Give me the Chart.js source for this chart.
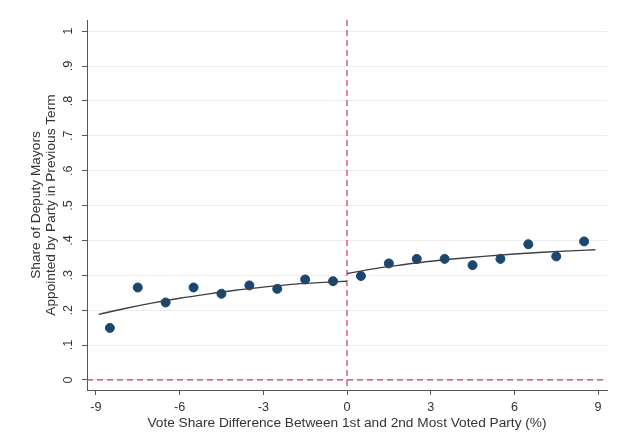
<!DOCTYPE html>
<html>
<head>
<meta charset="utf-8">
<script src="https://cdn.jsdelivr.net/npm/chart.js@4.4.1/dist/chart.umd.min.js"></script>
<style>
  html, body { margin: 0; padding: 0; background: #fff; }
  #wrap { width: 622px; height: 448px; position: relative; }
</style>
</head>
<body>
<div id="wrap"><canvas id="rdd-chart" width="622" height="448"></canvas></div>
<script>
// bin midpoints of the running variable and share in each bin
var binX = [-8.5, -7.5, -6.5, -5.5, -4.5, -3.5, -2.5, -1.5, -0.5,
            0.5, 1.5, 2.5, 3.5, 4.5, 5.5, 6.5, 7.5, 8.5];
var binShare = [0.149, 0.265, 0.222, 0.265, 0.247, 0.271, 0.261, 0.288, 0.283,
                0.298, 0.334, 0.347, 0.347, 0.329, 0.347, 0.389, 0.354, 0.397];

// fitted curves on each side of the cutoff
var fitLeftX = [-8.9, -8, -7, -6, -5, -4, -3, -2, -1, 0];
var fitLeftY = [0.188, 0.204, 0.220, 0.234, 0.246, 0.257, 0.266, 0.274, 0.279, 0.283];
var fitRightX = [0, 1, 2, 3, 4, 5, 6, 7, 8, 8.9];
var fitRightY = [0.305, 0.319, 0.330, 0.340, 0.348, 0.355, 0.361, 0.366, 0.370, 0.373];

var xTicks = [-9, -6, -3, 0, 3, 6, 9];
var yTicks = [0, 0.1, 0.2, 0.3, 0.4, 0.5, 0.6, 0.7, 0.8, 0.9, 1];
var yTickLabels = ['0', '.1', '.2', '.3', '.4', '.5', '.6', '.7', '.8', '.9', '1'];

function pairs(xs, ys) {
  return xs.map(function (x, i) { return { x: x, y: ys[i] }; });
}

// dashed reference lines at x = 0 and y = 0
var cutoffLines = {
  id: 'cutoffLines',
  afterDatasetsDraw: function (chart) {
    var ctx = chart.ctx, a = chart.chartArea;
    var px = chart.scales.x.getPixelForValue(0);
    var py = chart.scales.y.getPixelForValue(0);
    ctx.save();
    ctx.strokeStyle = '#c9386a';
    ctx.lineWidth = 1.2;
    ctx.setLineDash([6, 4]);
    ctx.beginPath();
    ctx.moveTo(a.left, py);
    ctx.lineTo(a.right, py);
    ctx.moveTo(px, a.top);
    ctx.lineTo(px, a.bottom);
    ctx.stroke();
    ctx.restore();
  }
};

var font = "'Liberation Sans', Arial, Helvetica, sans-serif";

var ctx = document.getElementById('rdd-chart').getContext('2d');
new Chart(ctx, {
  type: 'scatter',
  data: {
    datasets: [
      {
        type: 'line',
        data: pairs(fitLeftX, fitLeftY),
        borderColor: '#3c4048',
        borderWidth: 1.4,
        pointRadius: 0,
        cubicInterpolationMode: 'monotone',
        fill: false
      },
      {
        type: 'line',
        data: pairs(fitRightX, fitRightY),
        borderColor: '#3c4048',
        borderWidth: 1.4,
        pointRadius: 0,
        cubicInterpolationMode: 'monotone',
        fill: false
      },
      {
        data: pairs(binX, binShare),
        backgroundColor: '#1a476f',
        borderColor: '#1a476f',
        pointRadius: 4.5,
        pointHoverRadius: 4.5
      }
    ]
  },
  options: {
    responsive: false,
    animation: false,
    events: [],
    layout: { padding: { top: 20, right: 15, left: 0, bottom: 0 } },
    plugins: { legend: { display: false }, tooltip: { enabled: false } },
    scales: {
      x: {
        type: 'linear',
        min: -9.32,
        max: 9.32,
        afterBuildTicks: function (s) { s.ticks = xTicks.map(function (v) { return { value: v }; }); },
        afterFit: function (s) { s.height = 58; },
        grid: { drawOnChartArea: false, tickLength: 5, tickColor: '#555', color: '#555' },
        border: { color: '#555', width: 1 },
        ticks: { padding: 5, color: '#333', font: { family: font, size: 12.6 } },
        title: {
          display: true,
          text: 'Vote Share Difference Between 1st and 2nd Most Voted Party (%)',
          color: '#333',
          font: { family: font, size: 13.7, lineHeight: 1.1 },
          padding: { top: 0, bottom: 17 }
        }
      },
      y: {
        type: 'linear',
        min: -0.029,
        max: 1.032,
        afterBuildTicks: function (s) { s.ticks = yTicks.map(function (v) { return { value: v }; }); },
        afterFit: function (s) { s.width = 87; },
        grid: { color: '#ececec', lineWidth: 1, tickLength: 5, tickColor: '#555' },
        border: { color: '#555', width: 1 },
        ticks: {
          minRotation: 90,
          maxRotation: 90,
          crossAlign: 'center',
          padding: 8,
          color: '#333',
          font: { family: font, size: 12.6 },
          callback: function (v) {
            var i = yTicks.indexOf(v);
            return i >= 0 ? yTickLabels[i] : '';
          }
        },
        title: {
          display: true,
          text: ['Share of Deputy Mayors', 'Appointed by Party in Previous Term'],
          color: '#333',
          font: { family: font, size: 13.7, lineHeight: 1.1 },
          padding: { top: 29, bottom: 0 }
        }
      }
    }
  },
  plugins: [cutoffLines]
});
</script>
</body>
</html>
